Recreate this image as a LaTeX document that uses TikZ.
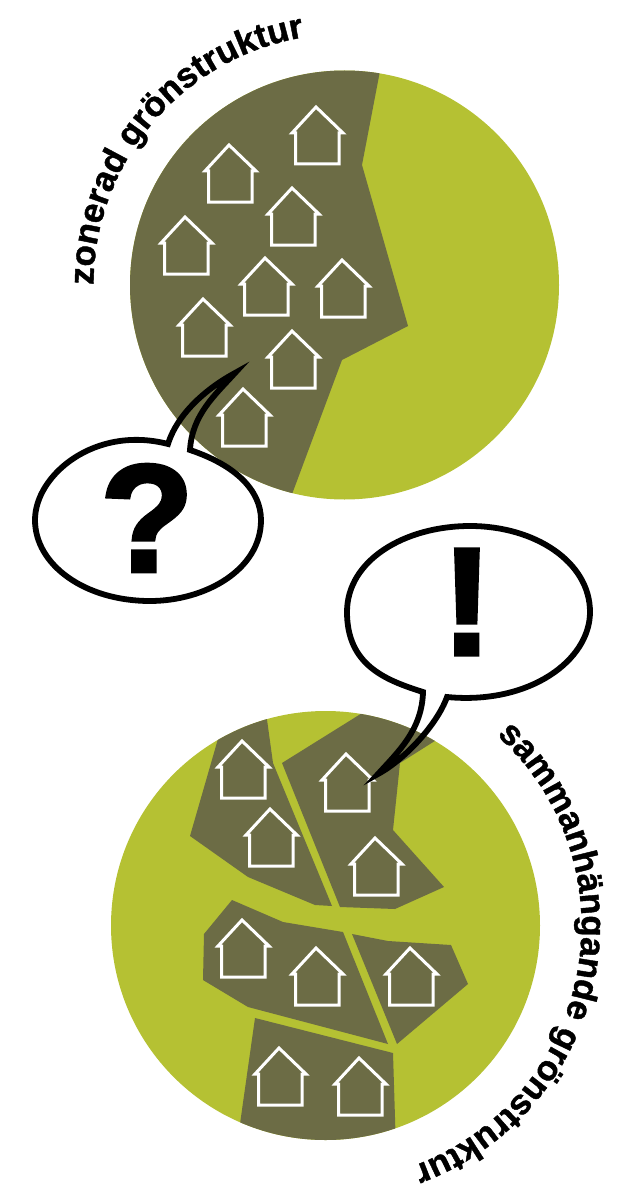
\documentclass[tikz,border=0pt]{standalone}
\usepackage{fontspec}
\setmainfont[BoldFeatures={FakeBold=1.2}]{Liberation Sans}
\newfontfamily\signfont[BoldFeatures={FakeBold=2.5}]{Liberation Sans}
\usepackage{xcolor}
\definecolor{green1}{HTML}{B5C133}
\definecolor{olive1}{HTML}{6C6C45}
\usetikzlibrary{decorations.text}

\begin{document}
\begin{tikzpicture}[
  x=1pt,y=-1pt,
  disc/.style={fill=green1},
  zone/.style={fill=olive1},
  bubble/.style={draw=black,line width=5.8pt,line join=miter,miter limit=40},
  sign/.style={font=\signfont\fontsize{153}{153}\selectfont\bfseries,inner sep=0pt},
  house/.pic={
    \draw[white,line width=3pt,miter limit=10] (-20.5,59) -- (-20.5,28) -- (-24,28) -- (0,2)
      -- (27,28) -- (23,28) -- (23,59) -- cycle;
  },
]
  \useasboundingbox (0,0) rectangle (620,1185);

  % upper disc
  \fill[disc] (344.5,285) circle[radius=214.5];
  \begin{scope}
    \clip (344.5,285) circle[radius=214.5];
    \fill[zone] (110,50) -- (384,50) -- (362,165) -- (408,326) -- (342,360) -- (288,505) -- (110,505) -- cycle;
  \end{scope}
  \foreach \x/\y in {316/105,229/143,292/186,185/215,265/256,342/258,203/297,292/329,243/387}
    \pic at (\x,\y) {house};

  % lower disc
  \fill[disc] (325.5,925.5) circle[radius=214.5];
  \begin{scope}
    \clip (325.5,925.5) circle[radius=214.5];
    \fill[zone] (265,705) -- (273,763) -- (332,906) -- (315,905) -- (248,877) -- (190,836) -- (222,725) -- cycle;
    \fill[zone] (282,763) -- (375,705) -- (449,732) -- (400,763) -- (393,830) -- (444,887) -- (395,909) -- (340,907) -- cycle;
    \fill[zone] (232,900) -- (283,922) -- (343,932) -- (388,1044) -- (248,1007) -- (203,980) -- (204,934) -- cycle;
    \fill[zone] (352,934) -- (388,941) -- (451,945) -- (468,984) -- (397,1044) -- cycle;
    \fill[zone] (255,1018) -- (393,1053) -- (396,1150) -- (237,1145) -- cycle;
  \end{scope}
  \foreach \x/\y in {242/739,270/807,346/752,375/836,242/918,316/946,410/946,279/1046,359/1056}
    \pic at (\x,\y) {house};

  % speech bubbles
  \fill[white] (190,450) .. controls (235,465) and (261,490) .. (261,520)
    .. controls (261,570) and (205,601) .. (150,601)
    .. controls (85,601) and (35,565) .. (35,520)
    .. controls (35,475) and (95,425) .. (168,444) -- cycle;
  \draw[bubble] (190,450) .. controls (235,465) and (261,490) .. (261,520)
    .. controls (261,570) and (205,601) .. (150,601)
    .. controls (85,601) and (35,565) .. (35,520)
    .. controls (35,475) and (95,425) .. (168,444)
    .. controls (178,412) and (209,387) .. (235,373)
    .. controls (215,395) and (192,415) .. (190,450) -- cycle;
  \node[sign] (qmark) at (147,518) {?};

  \fill[white] (423,692) .. controls (385,680) and (347,665) .. (347,612)
    .. controls (347,560) and (405,526) .. (470,526)
    .. controls (535,526) and (590,562) .. (590,612)
    .. controls (590,660) and (530,705) .. (447,697) -- cycle;
  \draw[bubble] (423,692) .. controls (385,680) and (347,665) .. (347,612)
    .. controls (347,560) and (405,526) .. (470,526)
    .. controls (535,526) and (590,562) .. (590,612)
    .. controls (590,660) and (530,705) .. (447,697)
    .. controls (437,725) and (404,760) .. (378,774)
    .. controls (398,752) and (422,730) .. (423,692) -- cycle;
  \node[sign] (exmark) at (467,602) {!};

  % curved titles
  \path[postaction={decorate},decoration={text along path,text align=left,
      text={|\fontsize{35}{35}\selectfont\bfseries|zonerad grönstruktur}}]
    (344.5,285) ++(-180:251) arc[start angle=-180,end angle=-70,radius=251];
  \path[postaction={decorate},decoration={text along path,text align=left,
      text={|\fontsize{35}{35}\selectfont\bfseries|sammanhängande grönstruktur}}]
    (325.5,925.5) ++(-48:256) arc[start angle=-48,end angle=90,radius=256];
\end{tikzpicture}
\end{document}
